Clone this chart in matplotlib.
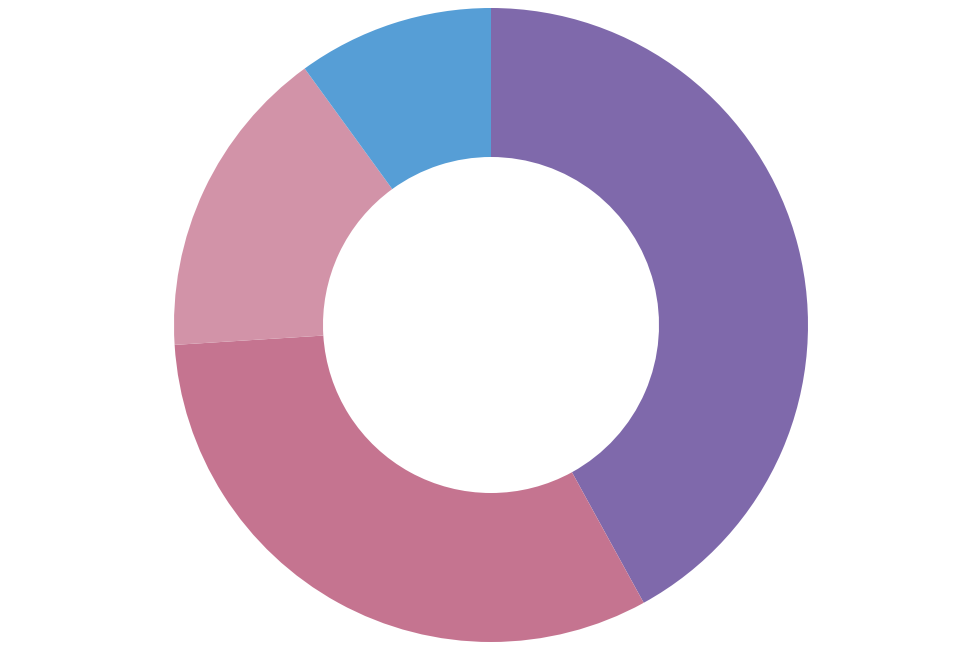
import matplotlib
matplotlib.use('Agg')
from matplotlib import pyplot as plt

labels = ['A', 'B', 'C', 'D']
values = [42, 32, 16, 10]
colors = ['#7f69ab', '#c57490', '#d293a8', '#569ed6']

fig = plt.figure(figsize=(9.75, 6.5), dpi=100)
ax = fig.add_axes([0, 0, 1, 1])

ax.pie(values, colors=colors, startangle=90, counterclock=False,
       radius=1, wedgeprops={'width': 0.47, 'linewidth': 0})

# centre at (491, 325) px, outer radius 317 px
r = 317
ax.set_xlim(-491 / r, (975 - 491) / r)
ax.set_ylim(-(650 - 325) / r, 325 / r)
ax.axis('off')

fig.savefig('out.png', dpi=100)
